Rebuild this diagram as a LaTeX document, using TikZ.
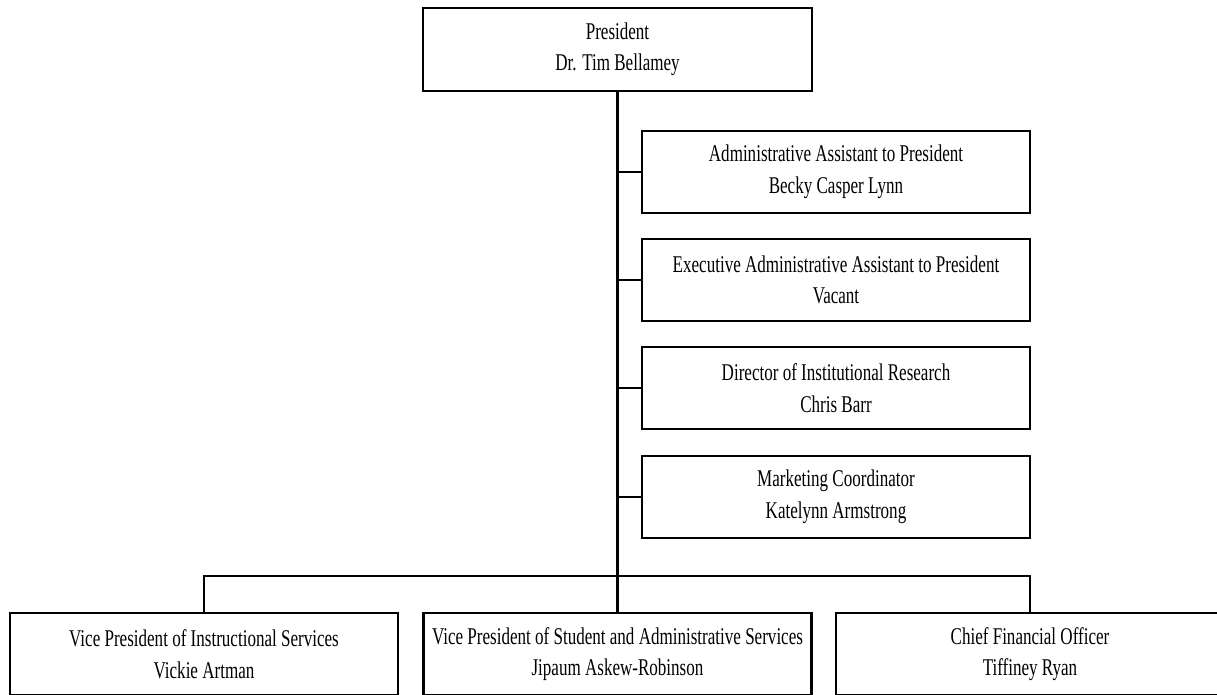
\documentclass[tikz,border=0pt]{standalone}
\usepackage{fontspec}
\usepackage{tikz}
\newfontfamily\orgfont[FakeStretch=0.71]{Liberation Serif}
\tikzset{ % common look of the chart, so we don't repeat ourselves
	post/.style={
		draw, line width=2.6pt, % box frame
		inner sep=0pt, align=center,
		minimum width=388pt, minimum height=82pt,
		font=\orgfont\fontsize{24}{31.5}\selectfont
	},
	link/.style={line width=2.4pt}
}

\begin{document}
\begin{tikzpicture}[x=1pt,y=-1pt]
			\useasboundingbox (0,0) rectangle (1217,694);
			% President
			\node[post,minimum width=389pt,minimum height=83pt] (pres) at (617.5,49.5) {President\\Dr. Tim Bellamey};
			% Staff
			\node[post] (asst) at (836,172) {Administrative Assistant to President\\Becky Casper Lynn};
			\node[post] (exec) at (836,280) {Executive Administrative Assistant to President\\Vacant};
			\node[post] (ir) at (836,388) {Director of Institutional Research\\Chris Barr};
			\node[post] (mkt) at (836,497) {Marketing Coordinator\\Katelynn Armstrong};
			% Vice presidents
			\node[post] (vpi) at (204,654) {Vice President of Instructional Services\\Vickie Artman};
			\node[post] (vpsa) at (617.5,654) {Vice President of Student and Administrative Services\\Jipaum Askew-Robinson};
			\node[post] (cfo) at (1030,654) {Chief Financial Officer\\Tiffiney Ryan};
			% Trunk and branches
			\draw[link] (pres.south) -- (vpsa.north);
			\foreach \n in {asst,exec,ir,mkt}
				\draw[link] (\n.west) -- (\n.west -| pres.south);
			\coordinate (bar) at (617.5,576);
			\draw[link] (vpi.north) |- (bar) -| (cfo.north);
		\end{tikzpicture}
\end{document}
